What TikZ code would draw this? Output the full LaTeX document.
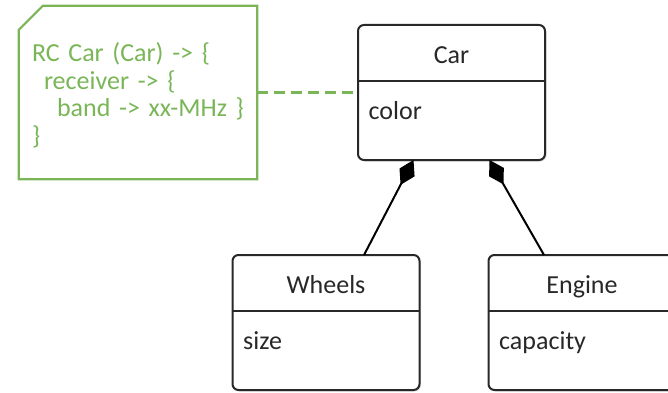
\documentclass[tikz,border=0pt]{standalone}
\usepackage{fontspec}
\setmainfont{Carlito}
\usetikzlibrary{arrows.meta,shadows}
\definecolor{notegreen}{RGB}{122,182,88}
\definecolor{inkgray}{RGB}{40,40,40}

\begin{document}
\begin{tikzpicture}[x=1pt, y=1pt,
    every node/.style={font=\fontsize{26}{27.5}\selectfont, inner sep=0pt},
    classbox/.style={draw=inkgray, line width=2pt, rounded corners=6pt, fill=white, outer sep=0pt,
      minimum width=187pt, minimum height=135pt,
      drop shadow={shadow xshift=1.5pt, shadow yshift=-1.5pt, opacity=0.25}},
    classname/.style={text=inkgray, anchor=base},
    classattr/.style={text=inkgray, anchor=base west},
    partline/.style={draw=inkgray, line width=2pt},
    composition/.style={draw=black, line width=2pt, -{Diamond[length=28pt, width=17pt, fill=black]}},
    notebox/.style={minimum width=238pt, minimum height=173pt, text width=212pt, align=left, text=notegreen},
    noteline/.style={draw=notegreen, line width=2.2pt}]

    \useasboundingbox (0,0) rectangle (668,392);

    % Classes
    \node[classbox] (car)    at (451.5,299.5) {};
    \node[classbox] (wheels) at (326,69.5)    {};
    \node[classbox] (engine) at (582,69.5)    {};

    % Compartments
    \draw[partline] ([yshift=-56pt]car.north west)    -- ([yshift=-56pt]car.north east);
    \draw[partline] ([yshift=-56pt]wheels.north west) -- ([yshift=-56pt]wheels.north east);
    \draw[partline] ([yshift=-56pt]engine.north west) -- ([yshift=-56pt]engine.north east);

    \node[classname] (carname)    at ([yshift=-38pt]car.north)    {Car};
    \node[classname] (wheelsname) at ([yshift=-38pt]wheels.north) {Wheels};
    \node[classname] (enginename) at ([yshift=-38pt]engine.north) {Engine};

    \node[classattr] (carcolor)     at ([xshift=10.5pt, yshift=-94pt]car.north west)    {color};
    \node[classattr] (wheelssize)   at ([xshift=10.5pt, yshift=-94pt]wheels.north west) {size};
    \node[classattr] (enginecap)    at ([xshift=10.5pt, yshift=-94pt]engine.north west) {capacity};

    % Note
    \node[notebox] (note) at (138,299.5) {\rule{0pt}{25pt}RC Car (Car) -> \{\\
      \hspace*{12pt}receiver -> \{\\
      \hspace*{25pt}band -> xx-MHz \}\\
      \}};
    \draw[noteline] ([yshift=-24pt]note.north west) -- ([xshift=24pt]note.north west) -- (note.north east)
      -- (note.south east) -- (note.south west) -- cycle;
    \draw[noteline, dash pattern=on 11pt off 6pt] (note.east) -- (car.west);

    % Composition links
    \draw[composition] ([xshift=38pt]wheels.north) -- ([xshift=-38pt]car.south);
    \draw[composition] ([xshift=-38pt]engine.north) -- ([xshift=38pt]car.south);
\end{tikzpicture}
\end{document}
